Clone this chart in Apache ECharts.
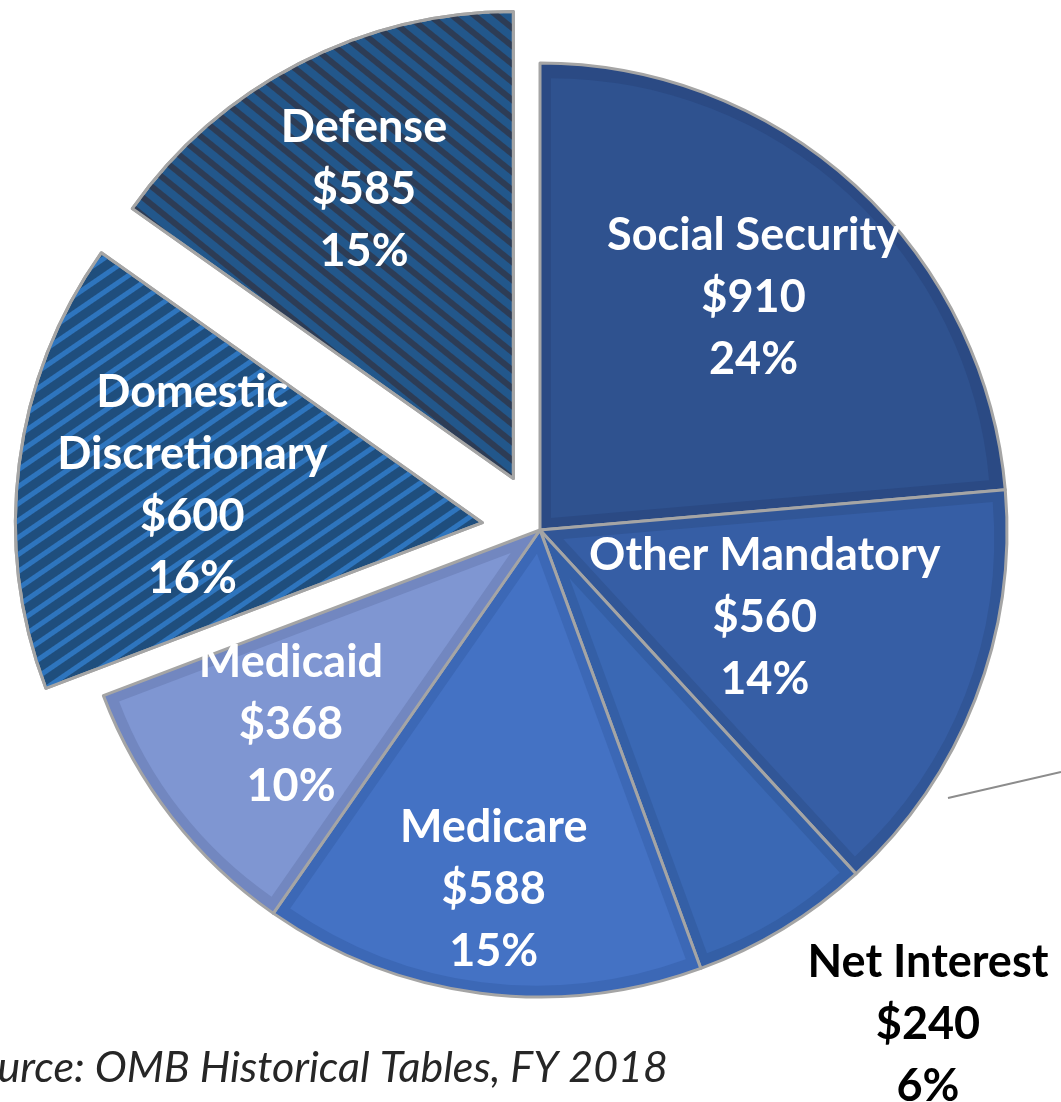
<!DOCTYPE html>
<html>
<head>
<meta charset="utf-8">
<script src="https://cdn.jsdelivr.net/npm/echarts@6/dist/echarts.min.js"></script>
<style>
  html, body { margin: 0; padding: 0; background: #fff; }
  #chart { width: 1061px; height: 1102px; }
</style>
</head>
<body>
<div id="chart"></div>
<script>
const names = ['Social Security', 'Other Mandatory', 'Net Interest', 'Medicare', 'Medicaid', 'Domestic Discretionary', 'Defense']
const amounts = [910, 560, 240, 588, 368, 600, 585]
const percents = [24, 14, 6, 15, 10, 16, 15]
const exploded = ['Domestic Discretionary', 'Defense']

// look of each slice: inner fill, darker bevel rim, stripes for the exploded ones
const fills = ['#2f528f', '#365ea5', '#3a68b4', '#4472c4', '#7f96d2', '#1f4e7d', '#22578b']
const bevels = ['#2b4a84', '#315697', '#345fa6', '#3c68b6', '#7287c0', null, null]
const stripes = [null, null, null, null, null,
  { color: '#2e75be', dashArrayY: [5, 9], rotation: -0.6 },
  { color: '#2d3c55', dashArrayY: [6, 8], rotation: 0.68 }]
// how far out (share of radius) each label sits
const labelReach = [0.67, 0.51, 0, 0.77, 0.67, 0.62, 0.69]

const cx = 540
const cy = 530
const radius = 467
const explodeBy = 58
const bevelWidth = 11
const font = 'Lato'

const chart = echarts.init(document.getElementById('chart'))
const total = amounts.reduce((a, b) => a + b, 0)

const pieBase = {
  type: 'pie',
  center: [cx, cy],
  startAngle: 90,
  clockwise: true,
  selectedMode: 'multiple',
  avoidLabelOverlap: false,
  emphasis: { disabled: true },
  labelLine: { show: false }
}

// outer slices, drawn in the rim colour
const baseData = names.map((name, i) => {
  const item = {
    name: name,
    value: amounts[i],
    selected: exploded.includes(name),
    itemStyle: { color: bevels[i] || fills[i] }
  }
  if (stripes[i]) {
    item.itemStyle.decal = {
      symbol: 'rect',
      symbolSize: 1,
      dashArrayX: [1, 0],
      dashArrayY: stripes[i].dashArrayY,
      rotation: stripes[i].rotation,
      color: stripes[i].color
    }
  }
  return item
})

const series = [Object.assign({}, pieBase, {
  z: 1,
  radius: radius,
  selectedOffset: explodeBy,
  silent: true,
  itemStyle: { borderColor: '#a5a5a5', borderWidth: 3 },
  label: { show: false },
  data: baseData
})]

// inset copy of each plain slice, gives the bevelled rim
names.forEach((name, k) => {
  if (!bevels[k]) return
  const half = amounts[k] / total * Math.PI
  const shift = bevelWidth / Math.sin(half)
  series.push(Object.assign({}, pieBase, {
    z: 2,
    radius: radius - bevelWidth - shift,
    selectedOffset: shift,
    silent: true,
    label: { show: false },
    data: names.map((n, i) => ({
      name: n,
      value: amounts[i],
      selected: i === k,
      itemStyle: { color: i === k ? fills[k] : 'transparent', borderWidth: 0 }
    }))
  }))
})

// labels on top
series.push(Object.assign({}, pieBase, {
  z: 3,
  radius: radius,
  selectedOffset: explodeBy,
  silent: true,
  itemStyle: { color: 'transparent', borderWidth: 0 },
  label: {
    show: true,
    position: 'inside',
    color: '#fff',
    fontFamily: font,
    fontWeight: 'bold',
    fontSize: 45,
    lineHeight: 62,
    align: 'center',
    formatter: (p) => {
      const label = p.name.replace('Domestic ', 'Domestic\n')
      return label + '\n$' + p.value + '\n' + percents[p.dataIndex] + '%'
    }
  },
  labelLayout: (params) => {
    const r = params.labelRect
    const lx = r.x + r.width / 2
    const ly = r.y + r.height / 2
    if (names[params.dataIndex] === 'Net Interest') {
      return { dx: 928 - lx, dy: 1024 - ly }
    }
    const vx = lx - cx
    const vy = ly - cy
    const len = Math.sqrt(vx * vx + vy * vy)
    const extra = (labelReach[params.dataIndex] - 0.5) * radius
    return { dx: vx / len * extra, dy: vy / len * extra }
  },
  data: names.map((name, i) => ({
    name: name,
    value: amounts[i],
    selected: exploded.includes(name),
    label: name === 'Net Interest' ? { color: '#000' } : {}
  }))
}))

const option = {
  animation: false,
  series: series,
  graphic: [
    {
      type: 'line',
      shape: { x1: 948, y1: 798, x2: 1061, y2: 772 },
      style: { stroke: '#8c8c8c', lineWidth: 2 },
      silent: true
    },
    {
      type: 'text',
      x: 668,
      y: 1068,
      style: {
        text: 'Source: OMB Historical Tables, FY 2018',
        fill: '#262626',
        font: 'italic 43px ' + font,
        align: 'right',
        verticalAlign: 'middle'
      }
    }
  ]
}

chart.setOption(option)
</script>
</body>
</html>
